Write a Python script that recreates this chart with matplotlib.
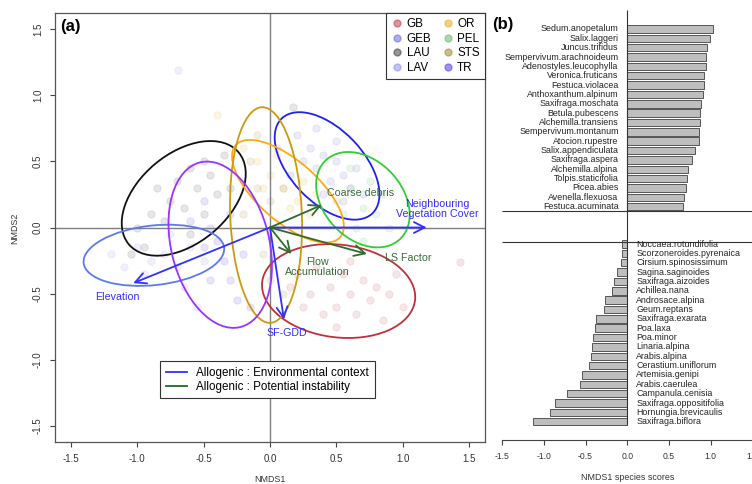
import numpy as np
import matplotlib
matplotlib.use('Agg')
import matplotlib.pyplot as plt
from matplotlib.patches import Ellipse
from matplotlib.lines import Line2D
from matplotlib.ticker import FormatStrFormatter

plt.rcParams['font.family'] = ['Liberation Sans', 'DejaVu Sans']
plt.rcParams['axes.unicode_minus'] = False

# ---- panel (a): site scores per group ----
groups = ['GB', 'GEB', 'LAU', 'LAV', 'OR', 'PEL', 'STS', 'TR']
point_cols = ['#C0404A', '#6A6AE0', '#404040', '#9090F0', '#E0B020', '#66BB66', '#A08830', '#5A3AE0']
ell_cols = ['#C0303A', '#2020F0', '#111111', '#5A7AEE', '#FFAA10', '#33CC33', '#CC9910', '#9933FF']

pts_x = {
    'GB': [0.2, 0.3, 0.35, 0.45, 0.5, 0.55, 0.6, 0.65, 0.7, 0.75, 0.8, 0.9, 0.4, 0.25, 0.6, 0.85, 0.95, 0.15, 0.5, 1.0, 1.43],
    'GEB': [0.2, 0.3, 0.35, 0.4, 0.45, 0.5, 0.55, 0.6, 0.25, 0.35, 0.5, 0.65, 0.15, 0.7, 0.4, 0.55],
    'LAU': [-1.0, -0.9, -0.8, -0.85, -0.75, -0.7, -0.65, -0.6, -0.55, -0.5, -0.45, -0.4, -0.35, -0.5, -0.6, -0.95, -1.05, -0.3, 0.17],
    'LAV': [-1.2, -1.1, -1.0, -0.9, -0.8, -0.7, -0.6, -0.75, -0.5, -0.95, -0.65, -0.55, -0.69],
    'OR': [-0.1, 0.0, 0.1, 0.2, 0.3, 0.05, -0.2, 0.25, 0.15, -0.05, 0.35, -0.4],
    'PEL': [0.5, 0.6, 0.7, 0.75, 0.8, 0.65, 0.55, 0.85, 0.9, 0.7, 0.6],
    'STS': [-0.15, -0.1, 0.0, 0.05, -0.05, 0.0, 0.1, -0.1, 0.05, -0.2, 0.1],
    'TR': [-0.5, -0.45, -0.4, -0.35, -0.3, -0.25, -0.5, -0.2, -0.3, -0.45, -0.15, -0.6],
}
pts_y = {
    'GB': [-0.35, -0.5, -0.3, -0.45, -0.6, -0.35, -0.5, -0.65, -0.4, -0.55, -0.45, -0.5, -0.65, -0.6, -0.25, -0.7, -0.35, -0.45, -0.75, -0.6, -0.26],
    'GEB': [0.7, 0.6, 0.45, 0.55, 0.35, 0.5, 0.4, 0.3, 0.5, 0.75, 0.65, 0.45, 0.4, 0.25, 0.25, 0.2],
    'LAU': [0.0, 0.1, 0.05, 0.3, 0.2, 0.35, 0.15, 0.45, 0.3, 0.5, 0.4, 0.25, 0.55, 0.1, -0.05, -0.15, -0.2, 0.3, 0.91],
    'LAV': [-0.2, -0.3, -0.15, -0.25, -0.2, -0.3, -0.15, -0.05, -0.25, -0.35, -0.45, -0.6, 1.19],
    'OR': [0.5, 0.4, 0.3, 0.2, 0.1, 0.55, 0.6, 0.35, 0.15, 0.3, 0.25, 0.85],
    'PEL': [0.2, 0.3, 0.15, 0.35, 0.1, 0.0, 0.1, 0.25, 0.0, -0.1, 0.45],
    'STS': [0.5, 0.3, 0.2, 0.0, -0.2, -0.4, -0.5, 0.7, 0.6, 0.1, 0.3],
    'TR': [0.2, 0.0, -0.1, -0.25, -0.4, -0.55, -0.15, -0.2, 0.1, -0.4, -0.6, 0.05],
}

# ellipses: centre x, centre y, width, height, angle
ell_cx = [0.517, 0.43, -0.65, -0.875, 0.135, 0.70, -0.03, -0.375]
ell_cy = [-0.48, 0.465, 0.22, -0.21, 0.274, 0.21, 0.094, -0.13]
ell_w = [1.16, 0.99, 1.08, 1.065, 1.05, 0.817, 1.63, 1.28]
ell_h = [0.70, 0.55, 0.676, 0.45, 0.456, 0.59, 0.54, 0.74]
ell_ang = [-7, -46.5, 40, 6.3, -41.5, -47, 92.2, 103.6]

# fitted vectors
env_names = ['Neighbouring\nVegetation Cover', 'Elevation', 'SF-GDD']
env_x = [1.18, -1.03, 0.105]
env_y = [0.0, -0.42, -0.695]
env_lab_x = [1.26, -1.15, 0.125]
env_lab_y = [0.143, -0.525, -0.795]
ins_names = ['Coarse debris', 'Flow\nAccumulation', 'LS Factor']
ins_x = [0.39, 0.16, 0.73]
ins_y = [0.17, -0.2, -0.2]
ins_lab_x = [0.683, 0.36, 1.044]
ins_lab_y = [0.263, -0.296, -0.233]

# ---- panel (b): species scores ----
top_species = ['Sedum.anopetalum', 'Salix.laggeri', 'Juncus.trifidus', 'Sempervivum.arachnoideum',
               'Adenostyles.leucophylla', 'Veronica.fruticans', 'Festuca.violacea', 'Anthoxanthum.alpinum',
               'Saxifraga.moschata', 'Betula.pubescens', 'Alchemilla.transiens', 'Sempervivum.montanum',
               'Atocion.rupestre', 'Salix.appendiculata', 'Saxifraga.aspera', 'Alchemilla.alpina',
               'Tolpis.staticifolia', 'Picea.abies', 'Avenella.flexuosa', 'Festuca.acuminata']
top_scores = [1.025, 0.99, 0.955, 0.945, 0.94, 0.925, 0.915, 0.905, 0.885, 0.873,
              0.873, 0.86, 0.86, 0.815, 0.775, 0.727, 0.72, 0.70, 0.68, 0.67]
bottom_species = ['Noccaea.rotundifolia', 'Scorzoneroides.pyrenaica', 'Cirsium.spinosissimum',
                  'Sagina.saginoides', 'Saxifraga.aizoides', 'Achillea.nana', 'Androsace.alpina',
                  'Geum.reptans', 'Saxifraga.exarata', 'Poa.laxa', 'Poa.minor', 'Linaria.alpina',
                  'Arabis.alpina', 'Cerastium.uniflorum', 'Artemisia.genipi', 'Arabis.caerulea',
                  'Campanula.cenisia', 'Saxifraga.oppositifolia', 'Hornungia.brevicaulis', 'Saxifraga.biflora']
bottom_scores = [-0.06, -0.06, -0.08, -0.128, -0.164, -0.18, -0.27, -0.28, -0.37, -0.39,
                 -0.415, -0.42, -0.43, -0.46, -0.54, -0.56, -0.72, -0.86, -0.93, -1.13]

W, H = 752, 484
fig = plt.figure(figsize=(W / 100, H / 100), dpi=100)

# ================= panel (a) =================
ax = fig.add_axes([55 / W, 1 - 442 / H, 430 / W, 429 / H])
ax.set_xlim(-1.62, 1.62)
ax.set_ylim(-1.62, 1.62)

for g, c in zip(groups, point_cols):
    ax.scatter(pts_x[g], pts_y[g], s=28, color=c, alpha=0.13, edgecolors=c, linewidths=0.6, zorder=1)

ax.axhline(0, color='#808080', lw=1.0, zorder=2)
ax.axvline(0, color='#808080', lw=1.0, zorder=2)

for i in range(len(groups)):
    e = Ellipse((ell_cx[i], ell_cy[i]), ell_w[i], ell_h[i], angle=ell_ang[i],
                fill=False, edgecolor=ell_cols[i], lw=1.3, zorder=3)
    ax.add_patch(e)

env_col = '#3030FF'
ins_col = '#2E6B2E'
arrow_kw = dict(arrowstyle='->,head_length=0.55,head_width=0.28', lw=1.3, shrinkA=0, shrinkB=0,
                mutation_scale=14)
for x, y in zip(env_x, env_y):
    ax.annotate('', xy=(x, y), xytext=(0, 0), arrowprops=dict(color=env_col, **arrow_kw), zorder=4)
for x, y in zip(ins_x, ins_y):
    ax.annotate('', xy=(x, y), xytext=(0, 0), arrowprops=dict(color=ins_col, **arrow_kw), zorder=4)

for n, x, y in zip(env_names, env_lab_x, env_lab_y):
    ax.text(x, y, n, color=env_col, fontsize=7.7, ha='center', va='center', linespacing=1.0, zorder=5)
for n, x, y in zip(ins_names, ins_lab_x, ins_lab_y):
    ax.text(x, y, n, color='#3A6A3A', fontsize=7.7, ha='center', va='center', linespacing=1.0, zorder=5)

ax.text(0.013, 0.985, '(a)', transform=ax.transAxes, fontsize=12, fontweight='bold', va='top', ha='left')

ticks = [-1.5, -1.0, -0.5, 0.0, 0.5, 1.0, 1.5]
ax.set_xticks(ticks)
ax.set_yticks(ticks)
ax.xaxis.set_major_formatter(FormatStrFormatter('%.1f'))
ax.yaxis.set_major_formatter(FormatStrFormatter('%.1f'))
ax.tick_params(length=3.6, width=0.8, color='#444444', labelsize=7, labelcolor='#333333', pad=5)
for lab in ax.get_yticklabels():
    lab.set_rotation(90)
    lab.set_va('center')
for s in ax.spines.values():
    s.set_color('#555555')
    s.set_linewidth(0.9)

fig.text(15 / W, 1 - 228 / H, 'NMDS2', rotation=90, fontsize=6.4, ha='center', va='center', color='#333333')
fig.text(270 / W, 1 - 479 / H, 'NMDS1', fontsize=6.4, ha='center', va='center', color='#333333')

handles = [Line2D([], [], marker='o', ls='none', markersize=5, markerfacecolor=c, markeredgecolor=c,
                  alpha=0.55) for c in point_cols]
leg1 = ax.legend(handles, groups, ncol=2, loc='upper right', bbox_to_anchor=(1, 1), borderaxespad=0,
                 fontsize=8.4, frameon=True, fancybox=False, edgecolor='#333333', framealpha=1,
                 handletextpad=0.3, columnspacing=0.9, labelspacing=0.22, borderpad=0.45,
                 handlelength=1.0)
leg1.get_frame().set_linewidth(0.8)
ax.add_artist(leg1)

vec_handles = [Line2D([], [], color=env_col, lw=1.3), Line2D([], [], color='#1E6B1E', lw=1.3)]
leg2 = ax.legend(vec_handles, ['Allogenic : Environmental context', 'Allogenic : Potential instability'],
                 loc='upper left', bbox_to_anchor=((160 - 55) / 430, (442 - 361) / 429), borderaxespad=0,
                 fontsize=8.4, frameon=True, fancybox=False, edgecolor='#333333', framealpha=1,
                 handlelength=1.8, handletextpad=0.8, labelspacing=0.15, borderpad=0.5)
leg2.get_frame().set_linewidth(0.8)

# ================= panel (b) =================
bx = fig.add_axes([502 / W, 1 - 440 / H, 250.5 / W, 430 / H])
step = 9.35
y_top = (10 - 29) / step
y_bot = (440 - 29) / step
gap_off = 23
top_pos = np.arange(len(top_species))
bot_pos = np.arange(len(bottom_species)) + gap_off

bx.barh(top_pos, top_scores, height=0.8, color='#BEBEBE', edgecolor='#404040', linewidth=0.6)
bx.barh(bot_pos, bottom_scores, height=0.8, color='#BEBEBE', edgecolor='#404040', linewidth=0.6)
bx.set_xlim(-1.5, 1.5)
bx.set_ylim(y_bot, y_top)

bx.vlines(0, y_top, (425 - 29) / step, color='#333333', lw=0.8)
bx.hlines([(211 - 29) / step, (242 - 29) / step], -1.5, 1.5, color='#333333', lw=0.8)

for n, p in zip(top_species, top_pos):
    bx.text(-0.104, p, n, ha='right', va='center', fontsize=6.4, color='#222222')
for n, p in zip(bottom_species, bot_pos):
    bx.text(0.108, p, n, ha='left', va='center', fontsize=6.4, color='#222222')

for k in ['top', 'left', 'right']:
    bx.spines[k].set_visible(False)
bx.spines['bottom'].set_color('#444444')
bx.spines['bottom'].set_linewidth(0.8)
bx.set_yticks([])
bx.set_xticks(ticks)
bx.xaxis.set_major_formatter(FormatStrFormatter('%.1f'))
bx.tick_params(axis='x', length=3.6, width=0.8, color='#444444', labelsize=6.2, labelcolor='#333333', pad=5)

fig.text(492 / W, 1 - 25 / H, '(b)', fontsize=12, fontweight='bold', ha='left', va='center')
fig.text(628 / W, 1 - 478 / H, 'NMDS1 species scores', fontsize=6.4, ha='center', va='center', color='#333333')

fig.savefig('out.png', dpi=100)
